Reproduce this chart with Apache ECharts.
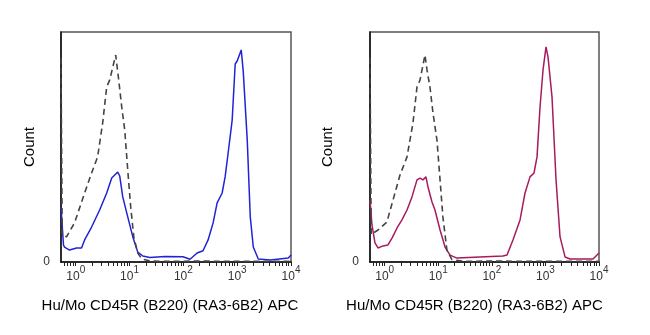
<!DOCTYPE html>
<html>
<head>
<meta charset="utf-8">
<script src="https://cdn.jsdelivr.net/npm/echarts@6/dist/echarts.min.js"></script>
<style>html,body{margin:0;padding:0;background:#fff;}#c{width:650px;height:335px;}</style>
</head>
<body>
<div id="c"></div>
<script>
// ---- data (fluorescence value, relative count) ----
const xAxisTitle = 'Hu/Mo CD45R (B220) (RA3-6B2) APC';
const yAxisTitle = 'Count';
const decadeExponents = [0, 1, 2, 3, 4];
const xMin = 0.532, xMax = 10000;

const leftIsotype = [[0.532,88.7],[0.56,12],[0.673,10.9],[0.95,17.0],[1.46,30.0],[1.97,38.7],[2.55,45.7],[3.16,60.4],[3.76,76.1],[4.27,79.1],[5.53,90.0],[6.29,79.1],[7.15,67.4],[8.13,57.4],[9.25,40.0],[10.5,23.9],[12.0,10.9],[14.2,3.9],[16.9,1.3],[25,0.4],[60,0.3],[200,0.4],[800,0.3],[3000,0.3],[10000,0.3]];
const leftStained = [[0.532,23.9],[0.592,7.4],[0.618,6.5],[0.766,5.2],[1.035,6.1],[1.28,6.1],[1.46,9.6],[1.97,15.2],[2.78,22.6],[3.76,30.0],[4.66,36.5],[5.30,37.8],[6.03,39.1],[6.56,37.4],[7.47,28.3],[9.25,19.6],[11.5,10.9],[14.2,4.3],[17.6,2.6],[23.8,2.0],[45.4,2.4],[98.4,2.3],[133,1.2],[180,3.9],[232,4.9],[288,9.6],[357,17.0],[424,25.7],[525,30.0],[597,37.0],[679,47.4],[807,61.7],[918,86.1],[1000,87.4],[1189,92.2],[1295,83.0],[1538,53.0],[1750,19.6],[1991,6.5],[2467,1.3],[4130,0.9],[8930,1.7],[10000,3.0]];
const rightIsotype = [[0.532,88.7],[0.56,12],[0.75,13.9],[1.10,17.4],[1.93,37.8],[2.61,45.7],[3.37,60.4],[4.01,76.1],[4.56,79.1],[5.65,90.0],[6.16,83.5],[7.0,76.1],[7.97,64.8],[9.46,53.0],[10.8,35.7],[12.2,19.6],[14.5,5.2],[18.0,1.0],[30,0.3],[100,0.4],[500,0.3],[2000,0.3],[10000,0.3]];
const rightStained = [[0.532,27.0],[0.579,16.1],[0.659,8.3],[0.75,6.1],[0.93,7.0],[1.15,7.4],[1.37,10.4],[1.70,14.8],[2.10,18.3],[2.61,22.6],[3.23,28.3],[4.01,35.7],[4.56,36.5],[5.18,35.7],[5.90,37.0],[6.43,32.6],[7.64,26.1],[8.68,22.6],[10.8,13.9],[13.4,6.5],[16.6,3.0],[22.3,1.7],[60.1,2.2],[161,2.6],[192,3.0],[248,9.6],[336,18.3],[416,30.0],[516,37.0],[613,38.7],[697,45.7],[793,67.4],[902,83.5],[1026,93.5],[1119,89.1],[1328,71.7],[1578,35.7],[1875,10.9],[2323,2.2],[2878,1.3],[7740,1.3],[10000,3.9]];

// ---- log10 display axis helpers ----
const toLog = arr => arr.map(p => [Math.log10(p[0]), p[1]]);
const lMin = Math.log10(xMin), lMax = Math.log10(xMax);
const tickVals = [];
for (let e = -1; e < 4; e++) for (let m = 1; m <= 9; m++) {
  const v = Math.log10(m * Math.pow(10, e));
  if (v >= lMin && v <= lMax) tickVals.push(v);
}
tickVals.push(lMax);
const FONT = '"Liberation Sans", Arial, sans-serif';

const grids = [
  {left: 61, top: 32, width: 230, height: 230, show: true, borderColor: '#555', borderWidth: 1.5},
  {left: 370, top: 32, width: 229, height: 230, show: true, borderColor: '#555', borderWidth: 1.5}
];
const titleShift = [12, 20];
const countGap = [24, 35];

const xAxes = [], yAxes = [];
[0, 1].forEach(g => {
  xAxes.push({
    type: 'value', gridIndex: g, min: lMin, max: lMax,
    name: xAxisTitle, nameLocation: 'middle', nameGap: 36,
    nameTextStyle: {fontFamily: FONT, fontSize: 15, color: '#000', padding: [0, titleShift[g], 0, 0]},
    axisLine: {show: true, onZero: false, lineStyle: {color: '#111', width: 1.5}},
    axisTick: {show: true, length: 4, inside: false, lineStyle: {color: '#222', width: 1}, customValues: tickVals},
    axisLabel: {show: true, margin: 3, customValues: decadeExponents, showMinLabel: true, showMaxLabel: true,
      formatter: v => '{b|10}{s|' + Math.round(v) + '}',
      rich: {
        b: {fontFamily: FONT, fontSize: 12, color: '#333', lineHeight: 18, verticalAlign: 'bottom'},
        s: {fontFamily: FONT, fontSize: 10, color: '#333', lineHeight: 18, verticalAlign: 'top'}
      }},
    splitLine: {show: false}
  });
  yAxes.push({
    type: 'value', gridIndex: g, min: 0, max: 100, interval: 100,
    name: yAxisTitle, nameLocation: 'middle', nameGap: countGap[g],
    nameTextStyle: {fontFamily: FONT, fontSize: 15, color: '#000'},
    axisLine: {show: true, onZero: false, lineStyle: {color: '#111', width: 1.5}},
    axisTick: {show: false},
    axisLabel: {show: true, margin: 11, fontFamily: FONT, fontSize: 12, color: '#333', padding: [0, 0, 14, 0],
      customValues: [0], formatter: v => String(v)},
    splitLine: {show: false}
  });
});

function lineSeries(data, g, color, dashed) {
  return {
    type: 'line', xAxisIndex: g, yAxisIndex: g, data: toLog(data),
    showSymbol: false, symbol: 'none', smooth: false, animation: false, clip: true,
    z: dashed ? 3 : 2,
    lineStyle: {color: color, width: dashed ? 1.6 : 1.5, type: dashed ? [6, 4] : 'solid'}
  };
}

const chart = echarts.init(document.getElementById('c'), null, {renderer: 'canvas'});
chart.setOption({
  animation: false,
  backgroundColor: '#fff',
  grid: grids,
  xAxis: xAxes,
  yAxis: yAxes,
  series: [
    lineSeries(leftStained, 0, '#2222d6', false),
    lineSeries(leftIsotype, 0, '#444', true),
    lineSeries(rightStained, 1, '#a81a5e', false),
    lineSeries(rightIsotype, 1, '#444', true)
  ]
});
</script>
</body>
</html>
